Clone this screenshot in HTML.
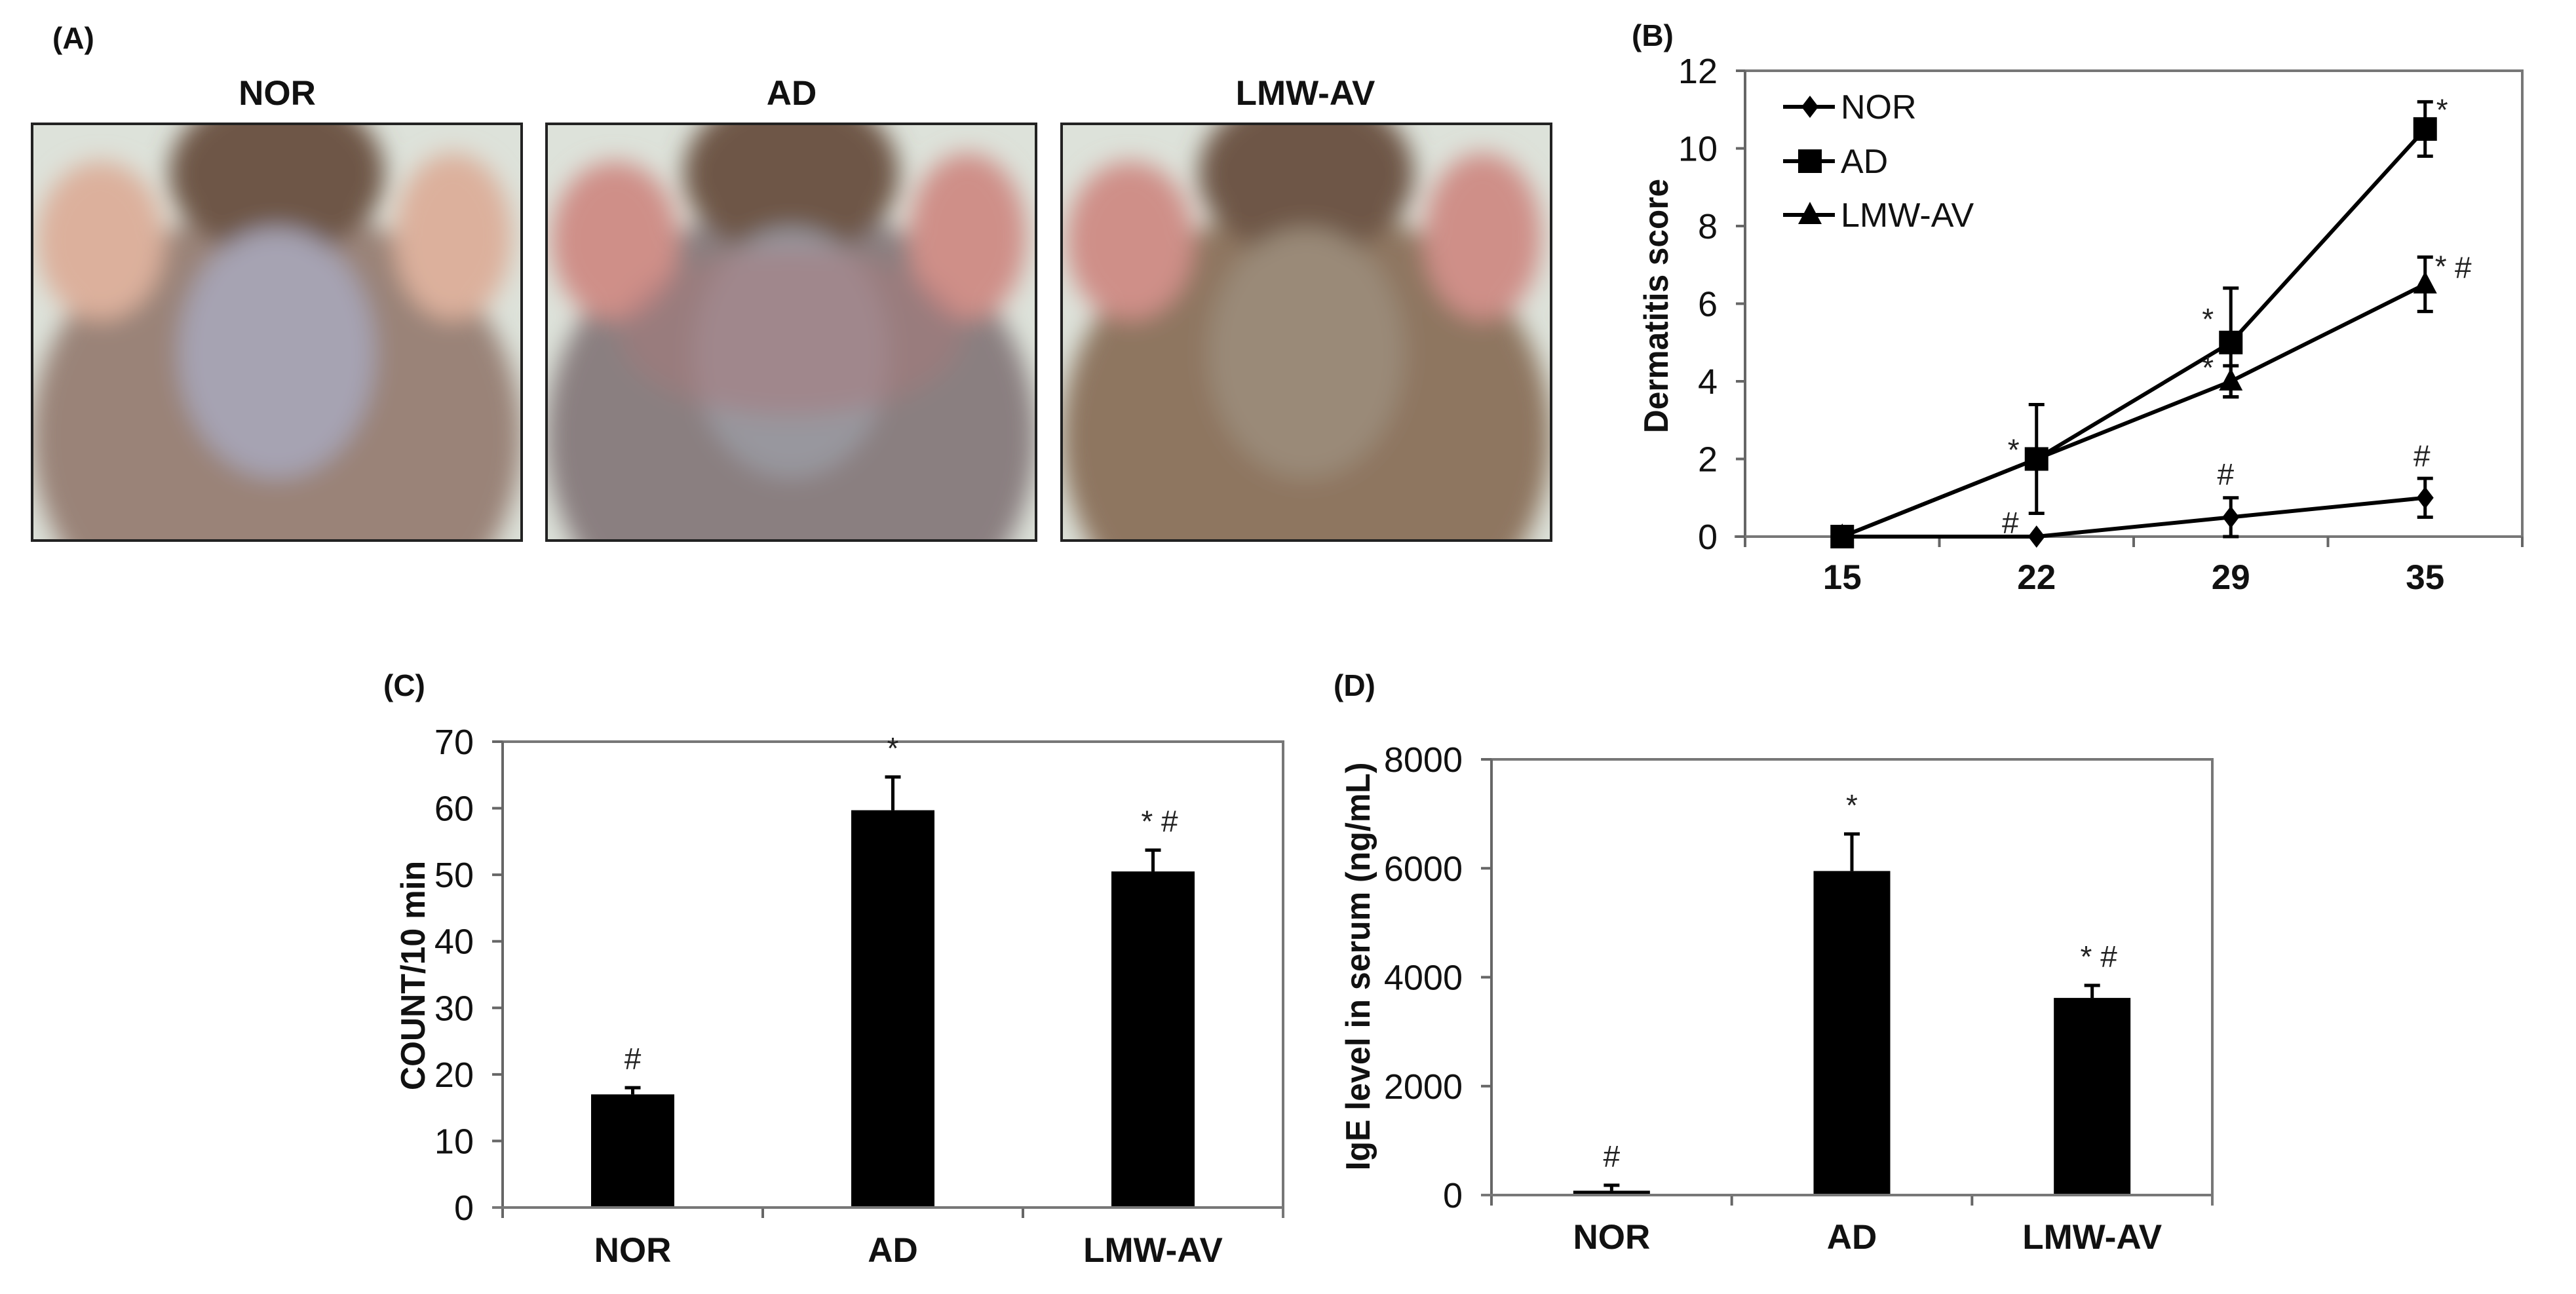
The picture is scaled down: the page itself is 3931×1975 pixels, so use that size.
<!DOCTYPE html>
<html><head><meta charset="utf-8"><style>
html,body{margin:0;padding:0;background:#fff;}
svg{display:block;}
text{font-family:"Liberation Sans",Arial,sans-serif;}
.tick{font-family:"Liberation Sans Narrow","Liberation Sans",sans-serif;font-size:54px;fill:#111;}
.cat{font-size:53px;font-weight:bold;fill:#111;}
.ttl{font-size:52px;font-weight:bold;fill:#111;}
.pl{font-size:46px;font-weight:bold;fill:#111;}
.ann{font-size:46px;fill:#222;}
</style></head><body>
<svg id="fig" width="3931" height="1975" viewBox="0 0 3931 1975" xmlns="http://www.w3.org/2000/svg">
<defs>
<filter id="blur" x="-20%" y="-20%" width="140%" height="140%"><feGaussianBlur stdDeviation="18"/></filter>
<filter id="blur2"><feGaussianBlur stdDeviation="6"/></filter>
</defs>
<!-- Panel A -->
<g>
<text class="pl" x="80" y="74">(A)</text>
<text class="cat" x="423" y="160" text-anchor="middle">NOR</text>
<text class="cat" x="1208" y="160" text-anchor="middle">AD</text>
<text class="cat" x="1992" y="160" text-anchor="middle">LMW-AV</text>
<g id="photos"></g>
</g>
<g id="panelB"></g>
<g id="panelC"></g>
<g id="panelD"></g>
</svg>
<script>
// ---- Panel B data ----
const daysB = ["15","22","29","35"];
const norB = [0, 0, 0.5, 1];
const norErrB = [0, 0, 0.5, 0.5];
const adB = [0, 2, 5, 10.5];
const adErrB = [0, 1.4, 1.4, 0.7];
const lmwB = [0, 2, 4, 6.5];
const lmwErrB = [0, 0, 0.4, 0.7];
const ticksB = [0, 2, 4, 6, 8, 10, 12];
// ---- Panel C data ----
const groupsC = ["NOR","AD","LMW-AV"];
const countC = [17, 59.7, 50.5];
const countErrC = [1, 5, 3.2];
const ticksC = [0, 10, 20, 30, 40, 50, 60, 70];
const annC = ["#", "*", "* #"];
// ---- Panel D data ----
const groupsD = ["NOR","AD","LMW-AV"];
const igeD = [80, 5950, 3620];
const igeErrD = [100, 680, 230];
const ticksD = [0, 2000, 4000, 6000, 8000];
const annD = ["#", "*", "* #"];

const NS = "http://www.w3.org/2000/svg";
function mk(parent, tag, attrs, txt){
  const e = document.createElementNS(NS, tag);
  for (const k in attrs) e.setAttribute(k, attrs[k]);
  if (txt !== undefined) e.textContent = txt;
  parent.appendChild(e);
  return e;
}

// ---- Photos (approximation) ----
(function(){
  const g = document.getElementById('photos');
  const frames = [[49,"nor"],[834,"ad"],[1620,"lmw-av"]];
  frames.forEach(([x,n],i)=>{
    const w = 747, y = 189, h = 636;
    const pg = mk(g,'g',{});
    
    
    const cid = 'clip'+i;
    const cp = mk(mk(pg,'defs',{}),'clipPath',{id:cid});
    mk(cp,'rect',{x:x,y:y,width:w,height:h});
    const inner = mk(pg,'g',{'clip-path':'url(#'+cid+')'});
    mk(inner,'rect',{x:x,y:y,width:w,height:h,fill:'#dde2da'});
    const b = mk(inner,'g',{filter:'url(#blur)'});
    const body = i===0 ? '#9a8378' : (i===1 ? '#8a7f80' : '#8e7660');
    const center = i===0 ? '#a6a3b2' : (i===1 ? '#98979e' : '#9a8a78');
    mk(b,'ellipse',{cx:x+w/2,cy:y+h*0.75,rx:w*0.5,ry:h*0.55,fill:body});
    mk(b,'ellipse',{cx:x+w/2,cy:y+h*0.12,rx:w*0.22,ry:h*0.2,fill:'#6e5646'});
    mk(b,'ellipse',{cx:x+w*0.5,cy:y+h*0.55,rx:w*0.2,ry:h*0.3,fill:center});
    const ear = i===0 ? '#dcb09c' : '#cf8f88';
    mk(b,'ellipse',{cx:x+w*0.14,cy:y+h*0.28,rx:w*0.13,ry:h*0.19,fill:ear});
    mk(b,'ellipse',{cx:x+w*0.86,cy:y+h*0.27,rx:w*0.12,ry:h*0.2,fill:ear});
    if (i===1){ mk(b,'ellipse',{cx:x+w*0.5,cy:y+h*0.5,rx:w*0.35,ry:h*0.2,fill:'#a7787a',opacity:0.5}); }
    mk(pg,'rect',{x:x,y:y,width:w,height:h,fill:'none',stroke:'#222','stroke-width':4});
  });
})();

// ---- Panel B ----
(function(){
  const g = document.getElementById('panelB');
  const X0 = 2663, X1 = 3849, Y0 = 819, Y1 = 108, YMAX = 12;
  const step = (X1 - X0) / daysB.length;
  const xs = i => X0 + step * (i + 0.5);
  const ys = v => Y0 - (v / YMAX) * (Y0 - Y1);
  let t = mk(g,'text',{class:'pl',x:2490,y:70},'(B)');
  
  
  let f = mk(g,'path',{d:`M${X0} ${Y1} H${X1} V${Y0}`,fill:'none',stroke:'#777','stroke-width':4});
  
  
  let ax = mk(g,'line',{x1:X0,y1:Y1,x2:X0,y2:Y0+16,stroke:'#666','stroke-width':4});
  
  
  let xa = mk(g,'line',{x1:X0-16,y1:Y0,x2:X1,y2:Y0,stroke:'#777','stroke-width':4});
  
  
  ticksB.forEach(v=>{
    mk(g,'line',{x1:X0-14,y1:ys(v),x2:X0,y2:ys(v),stroke:'#666','stroke-width':4});
    const tl = mk(g,'text',{class:'tick',x:X0-42,y:ys(v)+19,'text-anchor':'end'},String(v));
    
    
  });
  for (let i=1;i<=daysB.length;i++) mk(g,'line',{x1:X0+step*i,y1:Y0,x2:X0+step*i,y2:Y0+16,stroke:'#666','stroke-width':4});
  daysB.forEach((d,i)=>{
    const tl = mk(g,'text',{class:'cat',x:xs(i),y:Y0+80,'text-anchor':'middle'},d);
    
    
  });
  const yt = mk(g,'text',{class:'ttl',x:0,y:0,'text-anchor':'middle',transform:`translate(2545 467) rotate(-90)`,textLength:388,lengthAdjust:'spacingAndGlyphs'},'Dermatitis score');
  
  

  function marker(parent, type, cx, cy){
    if (type==='sq') return mk(parent,'rect',{x:cx-18,y:cy-18,width:36,height:36,fill:'#000'});
    if (type==='tri') return mk(parent,'path',{d:`M${cx} ${cy-20} L${cx+18} ${cy+14} L${cx-18} ${cy+14} Z`,fill:'#000'});
    return mk(parent,'path',{d:`M${cx} ${cy-17} L${cx+13} ${cy} L${cx} ${cy+17} L${cx-13} ${cy} Z`,fill:'#000'});
  }
  function series(name, vals, errs, type){
    const sg = mk(g,'g',{});
    
    
    mk(sg,'polyline',{points:vals.map((v,i)=>xs(i)+','+ys(v)).join(' '),fill:'none',stroke:'#000','stroke-width':6});
    vals.forEach((v,i)=>{
      if (errs[i]>0){
        const x=xs(i), a=ys(v+errs[i]), b=ys(Math.max(0,v-errs[i]));
        const eb = mk(sg,'path',{d:`M${x} ${a} V${b} M${x-12} ${a} H${x+12} M${x-12} ${b} H${x+12}`,stroke:'#000','stroke-width':5,fill:'none'});
        
        
      }
      const m = marker(sg, type, xs(i), ys(v));
      
      
    });
  }
  series('nor', norB, norErrB, 'dia');
  series('lmw-av', lmwB, lmwErrB, 'tri');
  series('ad', adB, adErrB, 'sq');
  // annotations
  const anns = [['*',xs(1)-35,ys(adB[1]+adErrB[1])+85],['#',xs(1)-40,ys(0)-5],['*',xs(2)-35,ys(adB[2])-20],
    ['*',xs(2)-35,ys(lmwB[2])-5],['#',xs(2)-8,ys(norB[2]+norErrB[2])-20],['#',xs(3)-5,ys(norB[3]+norErrB[3])-18],
    ['*',xs(3)+26,ys(adB[3]+adErrB[3])+28],['*',xs(3)+24,ys(lmwB[3]+lmwErrB[3])+30],['#',xs(3)+58,ys(lmwB[3]+lmwErrB[3])+32]];
  anns.forEach(a=>{
    const tl = mk(g,'text',{class:'ann',x:a[1],y:a[2],'text-anchor':'middle'},a[0]);
    
    
  });
  // legend
  const lg = mk(g,'g',{});
  
  
  [['NOR','dia',163],['AD','sq',246],['LMW-AV','tri',328]].forEach(([lab,type,y])=>{
    const le = mk(lg,'g',{});
    
    
    mk(le,'line',{x1:2721,y1:y,x2:2800,y2:y,stroke:'#000','stroke-width':6});
    marker(le,type,2762,y);
    mk(le,'text',{x:2809,y:y+18,'font-size':52,fill:'#111'},lab);
  });
})();

// ---- Bar chart helper ----
function barChart(gid, cfg, groups, vals, errs, ticks, anns){
  const g = document.getElementById(gid);
  const {X0,X1,Y0,Y1,YMAX,bw} = cfg;
  const step = (X1-X0)/groups.length;
  const xs = i => X0 + step*(i+0.5);
  const ys = v => Y0 - (v/YMAX)*(Y0-Y1);
  let t = mk(g,'text',{class:'pl',x:cfg.lx,y:cfg.ly},cfg.label);
  
  
  let f = mk(g,'path',{d:`M${X0} ${Y1} H${X1} V${Y0+16}`,fill:'none',stroke:'#777','stroke-width':4});
  
  
  let ax = mk(g,'line',{x1:X0,y1:Y1,x2:X0,y2:Y0+16,stroke:'#666','stroke-width':4});
  
  
  ticks.forEach(v=>{
    mk(g,'line',{x1:X0-16,y1:ys(v),x2:X0,y2:ys(v),stroke:'#666','stroke-width':4});
    const tl = mk(g,'text',{class:'tick',x:X0-44,y:ys(v)+19,'text-anchor':'end'},String(v));
    
    
  });
  for (let i=1;i<groups.length;i++) mk(g,'line',{x1:X0+step*i,y1:Y0,x2:X0+step*i,y2:Y0+16,stroke:'#666','stroke-width':4});
  groups.forEach((c,i)=>{
    const v = vals[i], e = errs[i], x = xs(i);
    const eb = mk(g,'path',{d:`M${x} ${ys(v)} V${ys(v+e)} M${x-12} ${ys(v+e)} H${x+12}`,stroke:'#000','stroke-width':5,fill:'none'});
    
    
    const r = mk(g,'rect',{x:x-bw/2,y:ys(v),width:bw,height:Y0-ys(v),fill:'#000'});
    
    
    const an = mk(g,'text',{class:'ann',x:x+ (anns[i].length>1?10:0),y:ys(v+e)-28,'text-anchor':'middle'},anns[i]);
    
    
    const tl = mk(g,'text',{class:'cat',x:x,y:cfg.catY,'text-anchor':'middle'},c);
    
    
  });
  mk(g,'line',{x1:X0-16,y1:Y0,x2:X1,y2:Y0,stroke:'#777','stroke-width':4});
  const yt = mk(g,'text',{class:'ttl',x:0,y:0,'text-anchor':'middle',transform:`translate(${cfg.tx} ${cfg.ty}) rotate(-90)`,textLength:cfg.tl,lengthAdjust:'spacingAndGlyphs'},cfg.title);
  
  
}
barChart('panelC',{X0:767,X1:1958,Y0:1843,Y1:1132,YMAX:70,bw:127,lx:585,ly:1062,label:'(C)',catY:1926,tx:648,ty:1489,tl:350,title:'COUNT/10 min'},groupsC,countC,countErrC,ticksC,annC);
barChart('panelD',{X0:2276,X1:3376,Y0:1824,Y1:1159,YMAX:8000,bw:117,lx:2035,ly:1062,label:'(D)',catY:1906,tx:2090,ty:1475,tl:623,title:'IgE level in serum (ng/mL)'},groupsD,igeD,igeErrD,ticksD,annD);
</script>
</body></html>
